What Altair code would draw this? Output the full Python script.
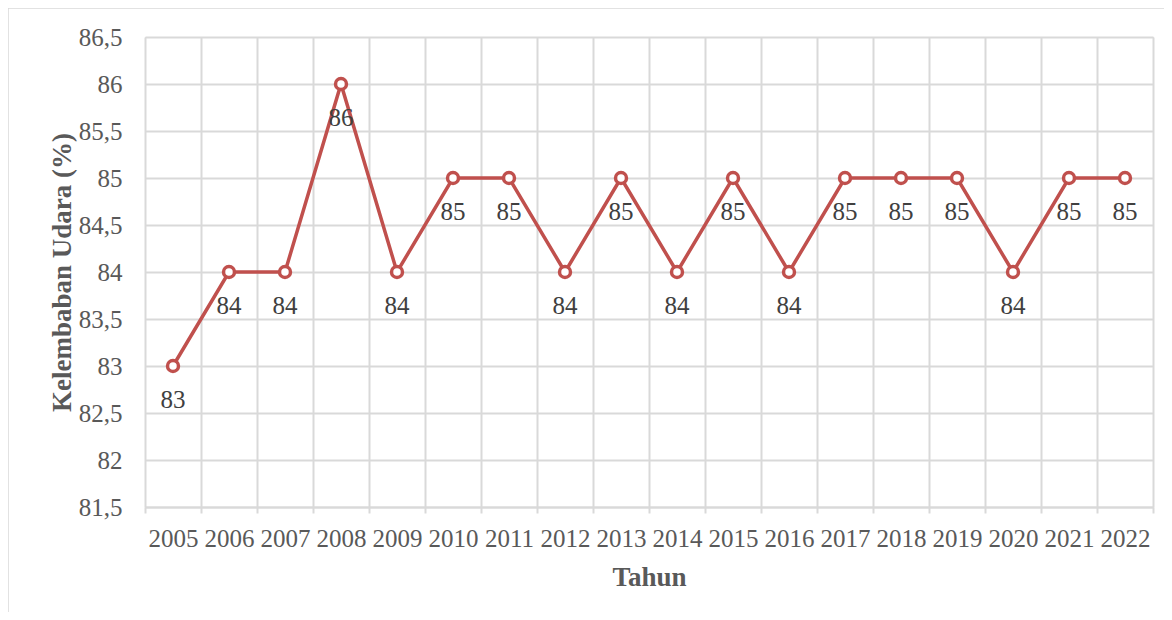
import altair as alt
import pandas as pd

years = [2005, 2006, 2007, 2008, 2009, 2010, 2011, 2012, 2013,
         2014, 2015, 2016, 2017, 2018, 2019, 2020, 2021, 2022]
humidity = [83, 84, 84, 86, 84, 85, 85, 84, 85,
            84, 85, 84, 85, 85, 85, 84, 85, 85]
y_ticks = [81.5, 82, 82.5, 83, 83.5, 84, 84.5, 85, 85.5, 86, 86.5]

df = pd.DataFrame({"Tahun": years, "Kelembaban": humidity})

# tick/grid positions at band boundaries, labels at year centres
x_values = sorted(years + [y - 0.5 for y in years] + [years[-1] + 0.5])

LINE_COLOR = "#C0504D"
GRID = "#d9d9d9"
TXT = "#595959"
FONT = "Liberation Serif"

x_enc = alt.X(
    "Tahun:Q",
    scale=alt.Scale(domain=[2004.5, 2022.5], nice=False, zero=False),
    axis=alt.Axis(
        values=x_values,
        labelExpr="datum.value % 1 == 0 ? format(datum.value, 'd') : ''",
        labelOverlap=False,
        labelFlush=False,
        labelBound=False,
        labelFont=FONT,
        labelFontSize=25,
        labelColor=TXT,
        labelBaseline="alphabetic",
        labelPadding=33,
        tickSize=6,
        tickColor=GRID,
        tickWidth=2,
        tickOpacity={"condition": {"test": "datum.value % 1 != 0", "value": 1}, "value": 0},
        grid=True,
        gridColor=GRID,
        gridWidth=2,
        gridOpacity={"condition": {"test": "datum.value % 1 != 0", "value": 1}, "value": 0},
        domain=True,
        domainColor=GRID,
        domainWidth=2,
        title="Tahun",
        titleFont=FONT,
        titleFontSize=27,
        titleFontWeight="bold",
        titleColor=TXT,
        titleBaseline="alphabetic",
        titleY=78,
    ),
)

y_enc = alt.Y(
    "Kelembaban:Q",
    scale=alt.Scale(domain=[81.5, 86.5], nice=False, zero=False),
    axis=alt.Axis(
        values=y_ticks,
        labelExpr="replace(format(datum.value, '.1~f'), '.', ',')",
        labelFont=FONT,
        labelFontSize=25,
        labelColor=TXT,
        labelPadding=23,
        labelOverlap=False,
        labelBound=False,
        labelFlush=False,
        ticks=False,
        tickSize=0,
        domain=False,
        grid=True,
        gridColor=GRID,
        gridWidth=2,
        title="Kelembaban Udara (%)",
        titleFont=FONT,
        titleFontSize=27,
        titleFontWeight="bold",
        titleColor=TXT,
        titleBaseline="alphabetic",
        titleX=-75,
    ),
)

base = alt.Chart(df).encode(x=x_enc, y=y_enc)

line = base.mark_line(color=LINE_COLOR, strokeWidth=3.5)
points = base.mark_point(
    shape="circle", size=120, filled=True, fill="white",
    stroke=LINE_COLOR, strokeWidth=3.5, opacity=1
)
labels = base.mark_text(
    dy=42, baseline="alphabetic", align="center",
    font=FONT, fontSize=25, color="#404040"
).encode(text=alt.Text("Kelembaban:Q", format="d"))

border = alt.Chart(pd.DataFrame({"b": [0]})).mark_rect(
    fillOpacity=0, stroke=GRID, strokeWidth=1.5, clip=False
).encode(
    x=alt.value(-137), x2=alt.value(1100),
    y=alt.value(-29), y2=alt.value(620),
)

chart = alt.layer(border, line, points, labels).properties(
    width=1008,
    height=470,
    autosize=alt.AutoSizeParams(type="none"),
    padding={"left": 137, "top": 29, "right": 11, "bottom": 105},
).configure_view(stroke=None).configure(background="white")

chart.save("out.html", embed_options={"renderer": "svg", "actions": False})
